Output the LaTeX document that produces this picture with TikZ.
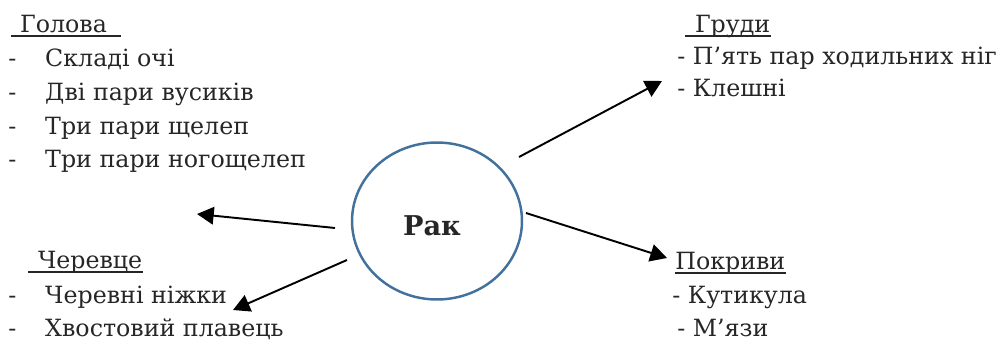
\documentclass[tikz,border=0pt]{standalone}
\usepackage{fontspec}
\setmainfont{DejaVu Serif}
\usepackage{xcolor}
\usetikzlibrary{arrows.meta,shapes.geometric}
\definecolor{rakblue}{RGB}{65,113,156}
\definecolor{inkgray}{RGB}{38,38,38}
\newcommand{\dashitem}[1]{\makebox[21pt][l]{-}#1}

\begin{document}
\begin{tikzpicture}
[
x=0.02cm, y=-0.02cm,
every node/.style={font=\fontsize{13.5}{18}\selectfont, text=inkgray},
textline/.style={anchor=base west, inner sep=0pt},
ulline/.style={draw=inkgray, line width=1.1pt},
rakball/.style={ellipse, draw=rakblue, line width=1.4pt, minimum width=3.4cm, minimum height=3.14cm},
raklabel/.style={inner sep=0pt, font=\fontsize{15.5}{18}\selectfont\bfseries},
myarrow/.style={-{Triangle[length=9.5pt,width=10pt]}, line width=1.1pt}
]
\useasboundingbox (0,0) rectangle (1005,341);

\node at (437,221) [rakball] (rak) {};
\node at (432,226) [raklabel] (raktext) {Рак};

%golova
\node at (11,33) [textline] (gol) {\hspace*{5pt}Голова\hspace*{8pt}};
\draw[ulline] ([yshift=-1.6pt]gol.base west) -- ([yshift=-1.6pt]gol.base east);
\node at (8,67) [textline] (g1) {\dashitem{Складі очі}};
\node at (8,101) [textline] (g2) {\dashitem{Дві пари вусиків}};
\node at (8,135) [textline] (g3) {\dashitem{Три пари щелеп}};
\node at (8,168) [textline] (g4) {\dashitem{Три пари ногощелеп}};

%grudy
\node at (685,33) [textline] (gr) {\hspace*{5.5pt}Груди};
\draw[ulline] ([yshift=-1.6pt]gr.base west) -- ([yshift=-1.6pt]gr.base east);
\node at (677,65) [textline] (gr1) {- П’ять пар ходильних ніг};
\node at (677,97) [textline] (gr2) {- Клешні};

%cherevtse
\node at (28,269) [textline] (cher) {\hspace*{5.5pt}Черевце};
\draw[ulline] ([yshift=-1.6pt]cher.base west) -- ([yshift=-1.6pt]cher.base east);
\node at (8,303) [textline] (ch1) {\dashitem{Черевні ніжки}};
\node at (8,337) [textline] (ch2) {\dashitem{Хвостовий плавець}};

%pokryvy
\node at (675,270) [textline] (pok) {Покриви};
\draw[ulline] ([yshift=-1.6pt]pok.base west) -- ([yshift=-1.6pt]pok.base east);
\node at (672,303) [textline] (p1) {- Кутикула};
\node at (677,337) [textline] (p2) {- М’язи};

%arrows
\coordinate (s1) at (519,157);
\coordinate (t1) at (662,81);
\coordinate (s2) at (335,228);
\coordinate (t2) at (197,214);
\coordinate (s3) at (347,260);
\coordinate (t3) at (233,310);
\coordinate (s4) at (526,213);
\coordinate (t4) at (667,258);
\draw[myarrow] (s1) -- (t1);
\draw[myarrow] (s2) -- (t2);
\draw[myarrow] (s3) -- (t3);
\draw[myarrow] (s4) -- (t4);

\end{tikzpicture}
\end{document}
